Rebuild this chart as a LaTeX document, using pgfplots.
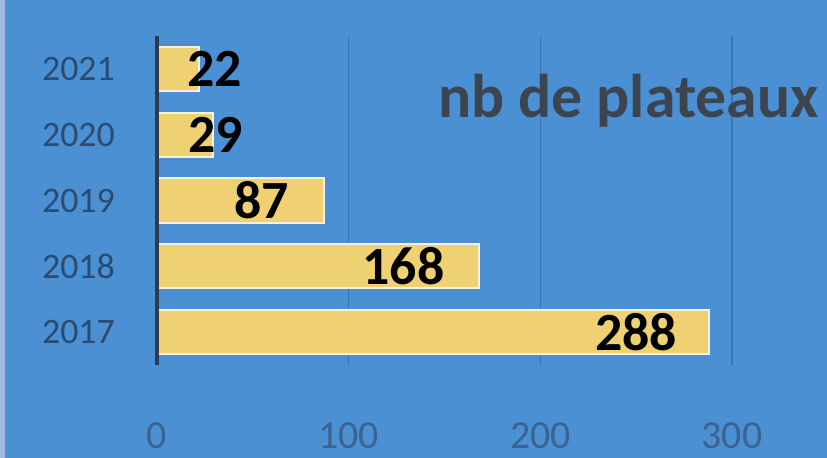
\documentclass[border=0pt]{standalone}
\usepackage{fontspec}
\setmainfont{Carlito}
\usepackage{pgfplots}
\pgfplotsset{compat=1.18}
\definecolor{bg}{HTML}{4A90D2}
\definecolor{edge}{HTML}{9DBBE0}
\definecolor{barfill}{HTML}{EFD174}
\definecolor{barline}{HTML}{F4F1DC}
\definecolor{gridc}{HTML}{3A74B4}
\definecolor{axisc}{HTML}{2E3B4E}
\definecolor{ylab}{HTML}{2B4B70}
\definecolor{xlab}{HTML}{3A6392}
\definecolor{titlec}{HTML}{3C4450}
\begin{document}
\begin{tikzpicture}[x=1bp,y=1bp]
\path[use as bounding box, fill=bg] (0,0) rectangle (827,458);
\fill[edge] (0,0) rectangle (5,458);
\begin{axis}[
  at={(157bp,93bp)}, anchor=south west,
  scale only axis, width=575bp, height=329bp,
  xmin=0, xmax=300, ymin=2016.5, ymax=2021.5,
  xtick={0,100,200,300}, ytick={2017,2018,2019,2020,2021},
  yticklabels={2017,2018,2019,2020,2021},
  xticklabels={0,100,200,300},
  axis line style={draw=none},
  major tick length=0pt,
  xmajorgrids, grid style={gridc, line width=1.2bp},
  xticklabel style={font=\fontsize{40}{40}\selectfont, text=xlab, anchor=north, inner sep=0pt, yshift=-57bp},
  yticklabel style={font=\fontsize{36}{36}\selectfont, text=ylab, anchor=east, inner sep=0pt, xshift=-42bp},
  clip=false,
]
\addplot[xbar, bar width=0.67, bar shift=0pt, fill=barfill, draw=barline, line width=2bp] coordinates {
  (288,2017) (168,2018) (87,2019) (29,2020) (22,2021)};
\addplot[draw=none, mark=none, nodes near coords, point meta=explicit symbolic,
  every node near coord/.style={anchor=center, font=\fontsize{54}{54}\selectfont\bfseries, text=black, inner sep=0pt}]
  coordinates {(250,2017)[288] (128.6,2018)[168] (54.7,2019)[87] (30.5,2020)[29] (30.2,2021)[22]};
\draw[axisc, line width=4bp] (axis cs:0,2016.5) -- (axis cs:0,2021.5);
\end{axis}
\node[anchor=base west, inner sep=0pt, text=titlec, font=\fontsize{62}{62}\selectfont\bfseries] at (438,340) {nb de plateaux};
\end{tikzpicture}
\end{document}
